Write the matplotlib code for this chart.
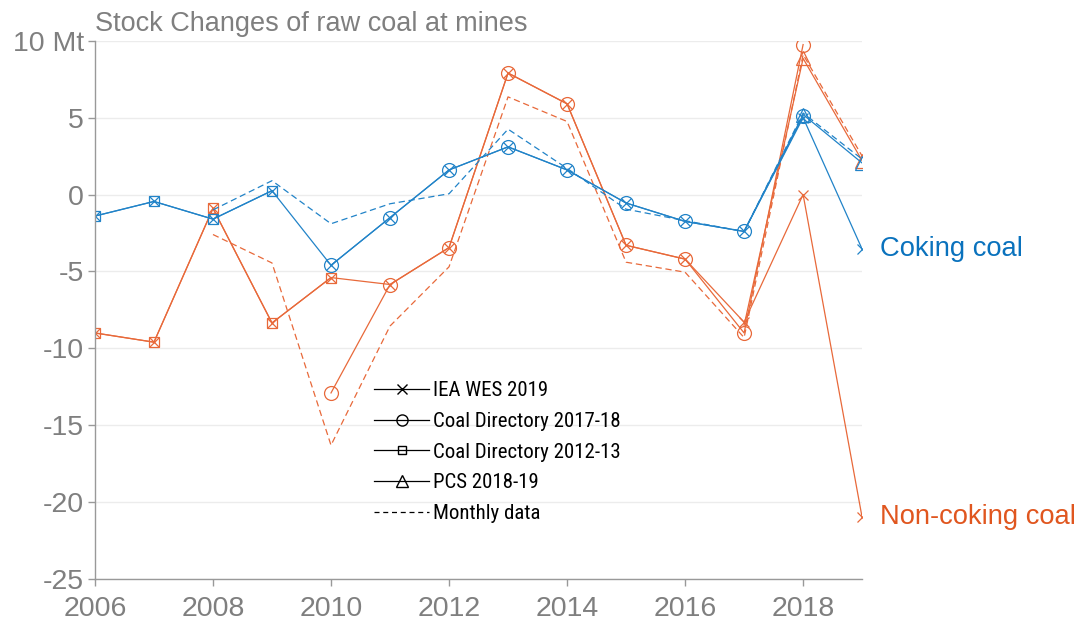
import numpy as np
import matplotlib
matplotlib.use("Agg")
import matplotlib.pyplot as plt
from matplotlib.lines import Line2D
from matplotlib import font_manager

# ==========================================
# 1. Data (Mt)
# ==========================================
nan = np.nan
years = list(range(2006, 2020))

# Coking coal
iea_cok     = [-1.4, -0.45, -1.6, 0.25, -4.6, -1.5, 1.6, 3.1, 1.6, -0.55, -1.75, -2.4, 5.0, -3.55]
cd1718_cok  = [nan, nan, nan, nan, -4.6, -1.5, 1.6, 3.1, 1.6, -0.55, -1.75, -2.4, 5.1, nan]
cd1213_cok  = [-1.4, -0.45, -1.6, 0.25, nan, nan, nan, nan, nan, nan, nan, nan, nan, nan]
pcs_cok     = [nan, nan, nan, nan, nan, nan, nan, nan, nan, nan, nan, -2.4, 5.2, 2.05]
monthly_cok = [nan, nan, -1.0, 0.9, -1.9, -0.6, 0.05, 4.25, 1.7, -0.95, -1.7, -2.4, 5.3, 2.3]

# Non-coking coal
iea_nc      = [-9.0, -9.6, -0.9, -8.35, -5.4, -5.85, -3.45, 7.9, 5.9, -3.3, -4.2, -8.3, 0.0, -21.0]
cd1718_nc   = [nan, nan, nan, nan, -12.9, -5.85, -3.45, 7.9, 5.9, -3.3, -4.2, -9.0, 9.75, nan]
cd1213_nc   = [-9.0, -9.6, -0.9, -8.35, -5.4, nan, nan, nan, nan, nan, nan, nan, nan, nan]
pcs_nc      = [nan, nan, nan, nan, nan, nan, nan, nan, nan, nan, nan, -8.5, 8.85, 2.2]
monthly_nc  = [nan, nan, -2.6, -4.45, -16.3, -8.55, -4.7, 6.35, 4.75, -4.4, -5.05, -9.3, 9.1, 2.5]

legend_labels = ["IEA WES 2019", "Coal Directory 2017-18", "Coal Directory 2012-13",
                 "PCS 2018-19", "Monthly data"]

# ==========================================
# 2. Style
# ==========================================
blue = "#2183c8"
orange = "#e8693a"
blue_txt = "#0a72bd"
orange_txt = "#e0561f"
grey = "#7f7f7f"

plt.rcParams["font.family"] = ["Liberation Sans", "DejaVu Sans"]

# the legend uses a narrow face, if one is installed
installed = {f.name for f in font_manager.fontManager.ttflist}
narrow = [n for n in ["Roboto Condensed", "Liberation Sans Narrow", "Open Sans Condensed"]
          if n in installed]
legend_font = (narrow[:1] or ["Liberation Sans"]) + ["DejaVu Sans"]
legend_size = 15 if narrow else 13

fig = plt.figure(figsize=(10.79, 6.23), dpi=100)
ax = fig.add_axes([0.088, 0.0706, 0.711, 0.864])

lw = 0.9


def draw(values, color, marker, ms, ls="-", markevery=None):
    ax.plot(years, values, color=color, lw=lw, ls=ls, marker=marker, ms=ms,
            mfc="none", mec=color, mew=0.9, markevery=markevery)


# ==========================================
# 3. Draw both coal types
# ==========================================
for col, iea, cd17, cd12, pcs, mon in [
    (orange, iea_nc, cd1718_nc, cd1213_nc, pcs_nc, monthly_nc),
    (blue, iea_cok, cd1718_cok, cd1213_cok, pcs_cok, monthly_cok),
]:
    draw(mon, col, None, 0, ls=(0, (5, 3)))
    draw(cd12, col, "s", 7)
    draw(cd17, col, "o", 10)
    draw(pcs, col, "^", 10, markevery=[12, 13])
    draw(iea, col, "x", 7)

# ==========================================
# 4. Axes
# ==========================================
ax.set_xlim(2006, 2019)
ax.set_ylim(-25, 10)
ax.set_xticks(range(2006, 2019, 2))
ax.set_yticks(range(-25, 11, 5))
ax.set_yticklabels(["-25", "-20", "-15", "-10", "-5", "0", "5", "10 Mt"])

for s in ["top", "right"]:
    ax.spines[s].set_visible(False)
for s in ["left", "bottom"]:
    ax.spines[s].set_color("#999999")
    ax.spines[s].set_linewidth(1.0)

ax.tick_params(axis="both", colors="#999999", labelcolor=grey, labelsize=20.5,
               length=5, width=1.0)
ax.tick_params(axis="x", pad=7)
ax.tick_params(axis="y", pad=3)
ax.grid(axis="y", color="#ececec", lw=1.0)
ax.set_axisbelow(True)

ax.text(0.0, 1.019, "Stock Changes of raw coal at mines", transform=ax.transAxes,
        fontsize=19.5, color=grey, ha="left", va="baseline")

# series labels at the right end
ax.annotate("Coking coal", xy=(2019, iea_cok[-1]), xytext=(13, 0),
            textcoords="offset points", color=blue_txt, fontsize=19.7,
            va="center", ha="left", annotation_clip=False)
ax.annotate("Non-coking coal", xy=(2019, iea_nc[-1]), xytext=(13, 0),
            textcoords="offset points", color=orange_txt, fontsize=19.7,
            va="center", ha="left", annotation_clip=False)

# ==========================================
# 5. Legend (black proxies)
# ==========================================
handles = [
    Line2D([], [], color="k", lw=lw, marker="x", ms=7, mfc="none"),
    Line2D([], [], color="k", lw=lw, marker="o", ms=8, mfc="none"),
    Line2D([], [], color="k", lw=lw, marker="s", ms=6, mfc="none"),
    Line2D([], [], color="k", lw=lw, marker="^", ms=9, mfc="none"),
    Line2D([], [], color="k", lw=lw, ls=(0, (4, 3))),
]
px = legend_size * 100 / 72
ax.legend(handles, legend_labels, loc="upper left", bbox_to_anchor=(0.353, 0.383),
          frameon=False, handlelength=55 / px,
          handletextpad=0.2, borderaxespad=0,
          labelspacing=(31 - legend_size * 1.283) / px,
          prop={"family": legend_font, "size": legend_size})

fig.savefig("out.png", dpi=100)
